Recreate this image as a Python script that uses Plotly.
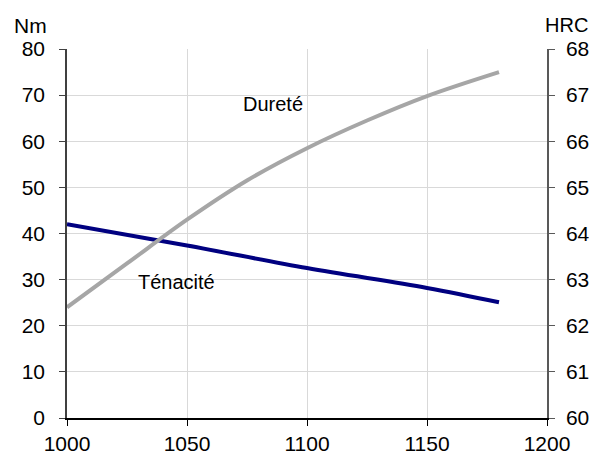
import plotly.graph_objects as go

temp_ten = [1000, 1050, 1100, 1150, 1180]
tenacite = [42.0, 37.4, 32.5, 28.2, 25.1]

temp_dur = [1000, 1025, 1050, 1075, 1100, 1125, 1150, 1180]
durete = [62.4, 63.35, 64.3, 65.15, 65.85, 66.45, 66.98, 67.5]

x_ticks = [1000, 1050, 1100, 1150, 1200]

FONT = "Liberation Sans, Arial, sans-serif"
TICK = 21

fig = go.Figure()
fig.add_trace(go.Scatter(x=temp_dur, y=durete, mode="lines", yaxis="y2",
                         line=dict(color="#a6a6a6", width=4, shape="spline"),
                         name="Dureté", showlegend=False))
fig.add_trace(go.Scatter(x=temp_ten, y=tenacite, mode="lines",
                         line=dict(color="#000080", width=4, shape="spline"),
                         name="Ténacité", showlegend=False))

fig.update_layout(
    width=589, height=449,
    margin=dict(l=59, r=50, t=41, b=39, autoexpand=False),
    paper_bgcolor="white", plot_bgcolor="white",
    font=dict(family=FONT, size=TICK, color="black"),
    xaxis=dict(range=[1000, 1200], tickvals=x_ticks, showgrid=True, gridcolor="#d9d9d9",
               gridwidth=1, showline=True, linecolor="black", linewidth=1.5,
               ticks="outside", ticklen=6, tickcolor="black", zeroline=False,
               tickfont=dict(size=TICK), automargin=False),
    yaxis=dict(range=[0, 80], dtick=10, showgrid=True, gridcolor="#d9d9d9", gridwidth=1,
               showline=True, linecolor="#404040", linewidth=1.5, ticks="outside",
               ticklen=6, tickcolor="#404040", zeroline=False, tickfont=dict(size=TICK),
               ticklabelstandoff=10, automargin=False),
    yaxis2=dict(range=[60, 68], dtick=1, overlaying="y", side="right", showgrid=False,
                showline=True, linecolor="#595959", linewidth=1.5, ticks="outside",
                ticklen=6, tickcolor="#595959", zeroline=False, tickfont=dict(size=TICK),
                ticklabelstandoff=7, automargin=False),
    annotations=[
        dict(text="Nm", xref="paper", yref="paper", x=-0.077, y=1.0, yshift=24,
             showarrow=False, xanchor="center", yanchor="middle", font=dict(size=21)),
        dict(text="HRC", xref="paper", yref="paper", x=1.09, y=1.0, yshift=24,
             showarrow=False, xanchor="right", yanchor="middle", font=dict(size=20)),
        dict(text="Dureté", x=1086, y=68.0, xref="x", yref="y", showarrow=False,
             font=dict(size=20)),
        dict(text="Ténacité", x=1045.5, y=29.5, xref="x", yref="y", showarrow=False,
             font=dict(size=20)),
    ],
)

fig.write_html("out.html")
